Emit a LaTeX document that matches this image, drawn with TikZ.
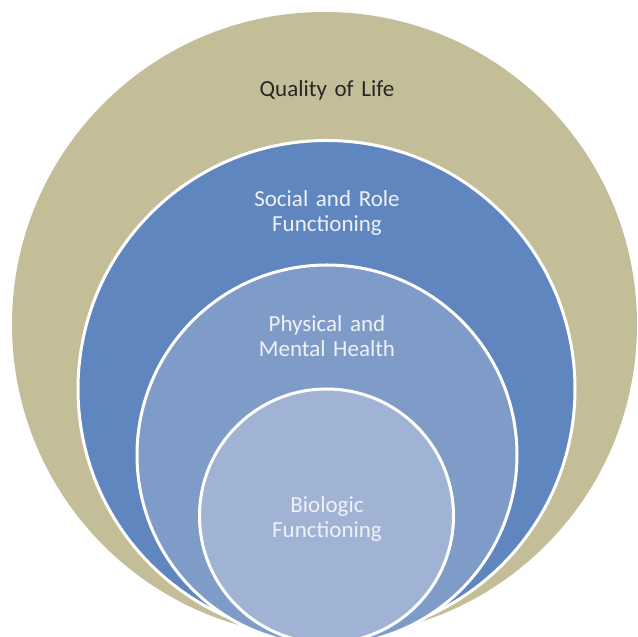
\documentclass[tikz,border=0pt]{standalone}
\usepackage{fontspec}
\setmainfont{Carlito}

\definecolor{qoltan}{HTML}{C4BE98}
\definecolor{socialblue}{HTML}{5F86BE}
\definecolor{physblue}{HTML}{7F9CC9}
\definecolor{bioblue}{HTML}{A0B3D5}
\definecolor{labelwhite}{HTML}{EEF1F7}

\begin{document}
\begin{tikzpicture}[%
    x=1pt, y=1pt,
    writing/.style={%
      text width=60mm,  % wide enough for two words
      align=center,     % align in center
      font=\fontsize{23}{25}\selectfont
    },
    ring/.style={%
      circle,           % circular node
      inner sep=0pt,    % no padding
      draw=white,       % white outside edge
      line width=3pt    %              and thick
    }
]

    \useasboundingbox (0,0) rectangle (638,637);

    % circles
    \node at (324.5,312.5) [ring, fill=qoltan, draw=none, minimum size=625] (quality)  {};
    \node at (326.5,248)   [ring, fill=socialblue, minimum size=497]        (social)   {};
    \node at (327,182)     [ring, fill=physblue, minimum size=380]          (physical) {};
    \node at (326.5,121)   [ring, fill=bioblue, minimum size=254]           (biologic) {};

    % labels
    \node at (327,547) [writing, text=black!85]    (quality label)  {Quality of Life};
    \node at (327,424) [writing, text=labelwhite]  (social label)   {Social and Role\\Functioning};
    \node at (327,301) [writing, text=labelwhite]  (physical label) {Physical and\\Mental Health};
    \node at (327,118) [writing, text=labelwhite]  (biologic label) {Biologic\\Functioning};

\end{tikzpicture}
\end{document}
